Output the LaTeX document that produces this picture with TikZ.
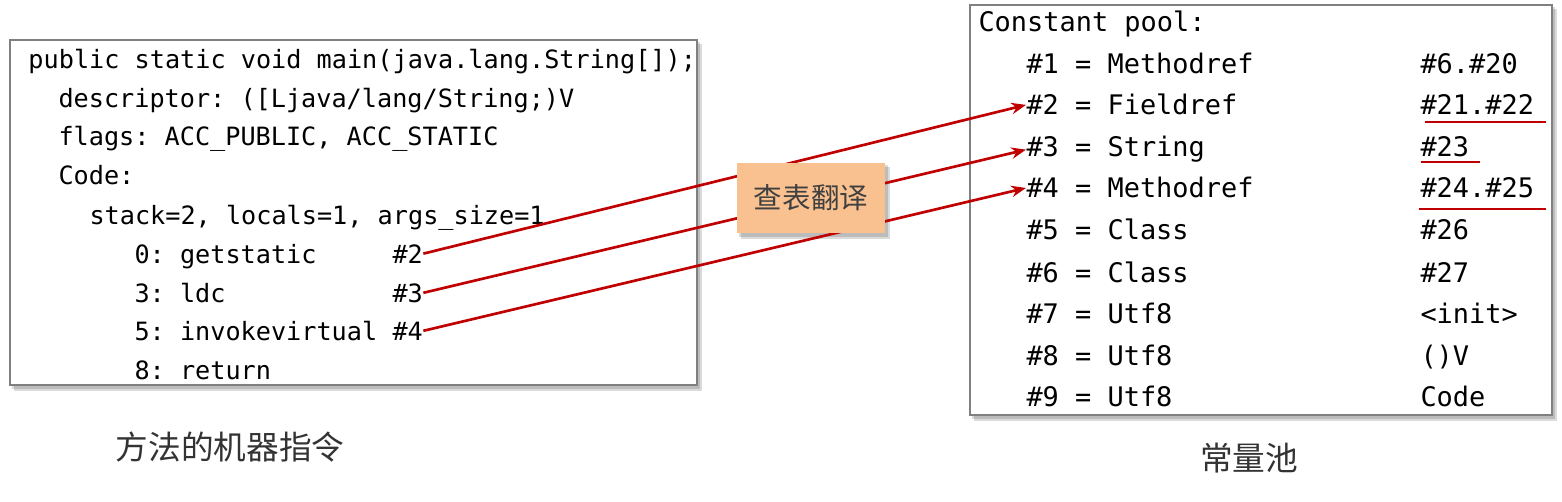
\documentclass[tikz,border=0pt]{standalone}
\usepackage{fontspec}
\usetikzlibrary{arrows.meta,calc}
\newfontfamily\codefont{DejaVu Sans Mono}
\newfontfamily\cjkfont{Noto Sans CJK SC}
\definecolor{refred}{RGB}{192,0,0}
\definecolor{lookupfill}{RGB}{249,193,144}
\definecolor{framegray}{RGB}{128,128,128}
\definecolor{captiongray}{RGB}{51,51,51}
\frenchspacing

\tikzset{every picture/.style={line width=0.75pt}}
\tikzset{
  codeline/.style={anchor=base west, inner sep=0pt, font=\codefont\fontsize{18.9}{20}\selectfont},
  poolline/.style={anchor=base west, inner sep=0pt, font=\codefont\fontsize{20.2}{22}\selectfont},
  boxframe/.style={draw=framegray, line width=1.1pt, fill=white},
  softshadow/.style={fill=black, opacity=0.14},
  refarrow/.style={draw=refred, line width=2pt, -{Stealth[length=11pt,width=8.5pt]}},
  refline/.style={draw=refred, line width=2pt},
  lookup/.style={fill=lookupfill, text=black!75, minimum width=111pt, minimum height=52.5pt, inner sep=0pt, font=\cjkfont\fontsize{21.4}{24}\selectfont},
  caption/.style={text=captiongray, inner sep=0pt, font=\cjkfont\fontsize{24.5}{28}\selectfont}
}

\begin{document}
\begin{tikzpicture}[x=0.75pt,y=0.75pt,yscale=-1,xscale=1]
  \useasboundingbox (0,0) rectangle (1562,502);

  %Shadows
  \fill[softshadow] (12,42) rectangle (700,389);
  \fill[softshadow] (14,44) rectangle (702,391);
  \fill[softshadow] (972,7) rectangle (1555,419);
  \fill[softshadow] (974,9) rectangle (1557,421);
  \fill[softshadow] (739,165) rectangle (888,237);
  \fill[softshadow] (741,167) rectangle (890,239);

  %Method code box
  \draw[boxframe] (10,40) rectangle (697,385);
  \node[codeline] (sig) at (28,69) {public static void main(java.lang.String[]);};
  \node[codeline] (desc) at (58,108) {descriptor: ([Ljava/lang/String;)V};
  \node[codeline] (flags) at (58,146) {flags: ACC\_PUBLIC, ACC\_STATIC};
  \node[codeline] (code) at (58,185) {Code:};
  \node[codeline] (stack) at (89,224) {stack=2, locals=1, args\_size=1};
  \node[codeline] (op0) at (134,263) {0: getstatic};
  \node[codeline] (ref2) at (392,263) {\#2};
  \node[codeline] (op3) at (134,302) {3: ldc};
  \node[codeline] (ref3) at (392,302) {\#3};
  \node[codeline] (op5) at (134,340) {5: invokevirtual};
  \node[codeline] (ref4) at (392,340) {\#4};
  \node[codeline] (op8) at (134,379) {8: return};

  %Constant pool box
  \draw[boxframe] (970,5) rectangle (1552,415);
  \node[poolline] (poolhead) at (978,32) {Constant pool:};
  \node[poolline] (pool1) at (1026,74) {\#1 = Methodref};
  \node[poolline] (val1) at (1420,74) {\#6.\#20};
  \node[poolline] (pool2) at (1026,115) {\#2 = Fieldref};
  \node[poolline] (val2) at (1420,115) {\#21.\#22};
  \node[poolline] (pool3) at (1026,157) {\#3 = String};
  \node[poolline] (val3) at (1420,157) {\#23};
  \node[poolline] (pool4) at (1026,198) {\#4 = Methodref};
  \node[poolline] (val4) at (1420,198) {\#24.\#25};
  \node[poolline] (pool5) at (1026,240) {\#5 = Class};
  \node[poolline] (val5) at (1420,240) {\#26};
  \node[poolline] (pool6) at (1026,282) {\#6 = Class};
  \node[poolline] (val6) at (1420,282) {\#27};
  \node[poolline] (pool7) at (1026,323) {\#7 = Utf8};
  \node[poolline] (val7) at (1420,323) {<init>};
  \node[poolline] (pool8) at (1026,365) {\#8 = Utf8};
  \node[poolline] (val8) at (1420,365) {()V};
  \node[poolline] (pool9) at (1026,406) {\#9 = Utf8};
  \node[poolline] (val9) at (1420,406) {Code};

  %References
  \draw[refarrow] (ref2.east) -- (pool2.west);
  \draw[refarrow] (ref3.east) -- (pool3.west);
  \draw[refarrow] (ref4.east) -- (pool4.west);
  \draw[refline] ($(val2.base west)+(5,7)$) -- ($(val2.base east)+(11,7)$);
  \draw[refline] ($(val3.base west)+(1,5)$) -- ($(val3.base east)+(10,5)$);
  \draw[refline] ($(val4.base west)+(-1,11)$) -- ($(val4.base east)+(11,11)$);

  %Lookup label
  \node[lookup] (lookup) at (811,198) {查表翻译};

  %Captions
  \node[caption] (methodcap) at (230,447) {方法的机器指令};
  \node[caption] (poolcap) at (1249,458) {常量池};
\end{tikzpicture}
\end{document}
